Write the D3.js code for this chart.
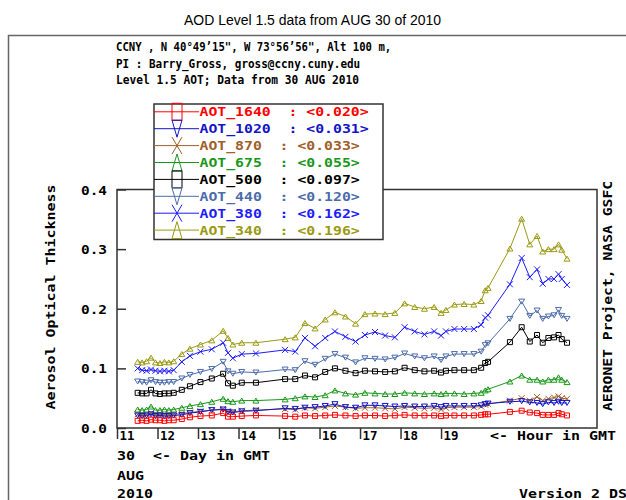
<!DOCTYPE html>
<html>
<head>
<meta charset="utf-8">
<script src="https://d3js.org/d3.v7.min.js"></script>
<style>
  body { margin: 0; background: #fff; }
  text { white-space: pre; }
</style>
</head>
<body>
<div id="chart"></div>
<script>
// observation times (hour GMT, 30 AUG 2010)
var hours = [11.51, 11.62, 11.73, 11.84, 11.95, 12.06, 12.17, 12.28, 12.40, 12.60,
  12.80, 13.06, 13.34, 13.62, 13.74, 13.86, 14.08, 14.43, 15.15, 15.40,
  15.64, 15.89, 16.14, 16.38, 16.64, 16.89, 17.12, 17.37, 17.62, 17.86,
  18.10, 18.35, 18.59, 18.83, 19.00, 19.12, 19.33, 19.57, 19.81, 19.99,
  20.09, 20.16, 20.70, 20.99, 21.19, 21.37, 21.51, 21.65, 21.79, 21.90,
  21.98, 22.11];

var aot1640 = [0.012, 0.013, 0.012, 0.014, 0.013, 0.013, 0.012, 0.013, 0.013, 0.015,
  0.018, 0.020, 0.021, 0.025, 0.019, 0.019, 0.020, 0.021, 0.020, 0.019,
  0.021, 0.020, 0.021, 0.022, 0.021, 0.020, 0.021, 0.021, 0.020, 0.021,
  0.022, 0.021, 0.021, 0.021, 0.020, 0.021, 0.021, 0.021, 0.021, 0.022,
  0.023, 0.023, 0.027, 0.029, 0.026, 0.025, 0.022, 0.022, 0.022, 0.025,
  0.023, 0.021];
var aot1020 = [0.021, 0.020, 0.021, 0.023, 0.020, 0.021, 0.020, 0.020, 0.021, 0.022,
  0.025, 0.027, 0.030, 0.031, 0.027, 0.026, 0.028, 0.029, 0.033, 0.032,
  0.034, 0.035, 0.037, 0.040, 0.035, 0.034, 0.038, 0.038, 0.037, 0.036,
  0.037, 0.036, 0.036, 0.037, 0.035, 0.037, 0.037, 0.037, 0.037, 0.038,
  0.040, 0.041, 0.044, 0.045, 0.043, 0.042, 0.040, 0.043, 0.042, 0.044,
  0.042, 0.042];
var aot870 = [0.023, 0.022, 0.023, 0.025, 0.022, 0.023, 0.022, 0.022, 0.023, 0.024,
  0.026, 0.028, 0.030, 0.032, 0.028, 0.027, 0.029, 0.030, 0.032, 0.031,
  0.034, 0.033, 0.035, 0.037, 0.035, 0.033, 0.034, 0.034, 0.033, 0.032,
  0.035, 0.034, 0.033, 0.034, 0.031, 0.034, 0.035, 0.035, 0.035, 0.036,
  0.039, 0.040, 0.046, 0.050, 0.046, 0.052, 0.046, 0.049, 0.051, 0.053,
  0.050, 0.049];
var aot675 = [0.031, 0.030, 0.031, 0.036, 0.030, 0.030, 0.031, 0.030, 0.031, 0.034,
  0.037, 0.040, 0.044, 0.049, 0.045, 0.044, 0.046, 0.046, 0.048, 0.050,
  0.053, 0.052, 0.055, 0.063, 0.058, 0.056, 0.059, 0.058, 0.057, 0.057,
  0.059, 0.058, 0.057, 0.058, 0.057, 0.058, 0.058, 0.057, 0.058, 0.059,
  0.063, 0.065, 0.078, 0.088, 0.081, 0.081, 0.078, 0.081, 0.081, 0.085,
  0.081, 0.077];
var aot500 = [0.059, 0.058, 0.058, 0.064, 0.058, 0.057, 0.058, 0.058, 0.059, 0.064,
  0.070, 0.077, 0.083, 0.091, 0.075, 0.071, 0.076, 0.076, 0.082, 0.082,
  0.088, 0.085, 0.094, 0.100, 0.096, 0.092, 0.096, 0.095, 0.094, 0.095,
  0.101, 0.097, 0.095, 0.096, 0.093, 0.096, 0.097, 0.097, 0.097, 0.101,
  0.109, 0.111, 0.144, 0.169, 0.145, 0.156, 0.143, 0.151, 0.152, 0.156,
  0.149, 0.143];
var aot440 = [0.078, 0.077, 0.076, 0.080, 0.077, 0.076, 0.076, 0.077, 0.077, 0.083,
  0.089, 0.094, 0.099, 0.111, 0.095, 0.091, 0.094, 0.093, 0.098, 0.097,
  0.112, 0.106, 0.116, 0.124, 0.118, 0.110, 0.117, 0.116, 0.115, 0.118,
  0.125, 0.120, 0.117, 0.120, 0.114, 0.120, 0.124, 0.124, 0.124, 0.128,
  0.139, 0.142, 0.183, 0.212, 0.188, 0.197, 0.183, 0.187, 0.189, 0.198,
  0.188, 0.183];
var aot380 = [0.100, 0.097, 0.096, 0.098, 0.096, 0.095, 0.096, 0.095, 0.097, 0.111,
  0.121, 0.128, 0.132, 0.143, 0.126, 0.117, 0.124, 0.125, 0.131, 0.128,
  0.151, 0.137, 0.151, 0.162, 0.153, 0.145, 0.156, 0.161, 0.155, 0.152,
  0.169, 0.162, 0.157, 0.162, 0.155, 0.162, 0.166, 0.166, 0.166, 0.173,
  0.185, 0.189, 0.241, 0.285, 0.253, 0.266, 0.242, 0.250, 0.250, 0.258,
  0.250, 0.240];
var aot340 = [0.111, 0.110, 0.112, 0.118, 0.110, 0.109, 0.111, 0.110, 0.112, 0.124,
  0.133, 0.140, 0.147, 0.163, 0.151, 0.140, 0.143, 0.143, 0.149, 0.152,
  0.176, 0.167, 0.182, 0.194, 0.187, 0.175, 0.191, 0.192, 0.191, 0.193,
  0.209, 0.203, 0.200, 0.203, 0.193, 0.198, 0.207, 0.208, 0.207, 0.213,
  0.231, 0.235, 0.301, 0.351, 0.308, 0.322, 0.296, 0.300, 0.300, 0.308,
  0.299, 0.284];

var seriesNames = ["AOT_1640", "AOT_1020", "AOT_870", "AOT_675", "AOT_500", "AOT_440", "AOT_380", "AOT_340"];
var seriesMeans = ["0.020", "0.031", "0.033", "0.055", "0.097", "0.120", "0.162", "0.196"];
var seriesValues = [aot1640, aot1020, aot870, aot675, aot500, aot440, aot380, aot340];

var xTicks = [11, 12, 13, 14, 15, 16, 17, 18, 19];
var yTicks = [0.0, 0.1, 0.2, 0.3, 0.4];

var colors = ["#ff0000", "#1414c8", "#a0602a", "#189818", "#000000", "#4c6caa", "#1c1cff", "#9a9a12"];
var markers = ["square", "tridown", "x", "triup", "square", "tridown", "x", "triup"];

var svgWidth = 626, svgHeight = 500;
var plot = { left: 117, right: 597, top: 189.5, bottom: 428 };

var svg = d3.select("#chart").append("svg")
  .attr("width", svgWidth)
  .attr("height", svgHeight);

svg.append("rect").attr("width", svgWidth).attr("height", svgHeight).attr("fill", "#fff");

var xScale = d3.scaleLinear().domain([11, 22.85]).range([plot.left, plot.right]);
var yScale = d3.scaleLinear().domain([0, 0.4]).range([plot.bottom, plot.top]);

// bold mono text stretched to a given char width
function monoText(g, x, y, str, cw, size, color) {
  return g.append("text")
    .attr("x", x).attr("y", y)
    .attr("font-family", "DejaVu Sans Mono")
    .attr("font-weight", "bold")
    .attr("font-size", size)
    .attr("fill", color || "#000")
    .attr("textLength", str.length * cw)
    .attr("lengthAdjust", "spacingAndGlyphs")
    .text(str);
}

function markerPath(type, w, h) {
  var a = w / 2, b = h / 2;
  if (type == "square") return `M${-a},${-b}H${a}V${b}H${-a}Z`;
  if (type == "triup") return `M0,${-b}L${a},${b}L${-a},${b}Z`;
  if (type == "tridown") return `M0,${b}L${a},${-b}L${-a},${-b}Z`;
  return `M${-a},${-b}L${a},${b}M${a},${-b}L${-a},${b}`;
}

// title
svg.append("text")
  .attr("x", 312.5).attr("y", 25)
  .attr("text-anchor", "middle")
  .attr("font-family", "Liberation Sans, Arial, sans-serif")
  .attr("font-size", 14)
  .attr("fill", "#000")
  .attr("textLength", 257)
  .attr("lengthAdjust", "spacingAndGlyphs")
  .text("AOD Level 1.5 data from AUG 30 of 2010");

// outer frame
svg.append("rect")
  .attr("x", 8.5).attr("y", 35.5)
  .attr("width", 640).attr("height", 500)
  .attr("fill", "none")
  .attr("stroke", "#666")
  .attr("stroke-width", 1.5);

// header
monoText(svg, 116, 51, "CCNY , N 40°49’15\", W 73°56’56\", Alt 100 m,", 6.4, 12);
monoText(svg, 116, 68, "PI : Barry_Gross, gross@ccny.cuny.edu", 6.6, 12);
monoText(svg, 116, 84, "Level 1.5 AOT; Data from 30 AUG 2010", 6.75, 12);

// plot frame
svg.append("rect")
  .attr("x", plot.left).attr("y", plot.top)
  .attr("width", plot.right - plot.left).attr("height", plot.bottom - plot.top)
  .attr("fill", "none")
  .attr("stroke", "#333")
  .attr("stroke-width", 1.5);

// y axis: inward ticks, labels to the left
var yAxisG = svg.append("g")
  .attr("transform", `translate(${plot.left},0)`)
  .call(d3.axisLeft(yScale).tickValues(yTicks).tickSizeInner(-9).tickSizeOuter(0)
    .tickPadding(10).tickFormat(d3.format(".1f")));
yAxisG.select(".domain").remove();
yAxisG.selectAll("line").attr("stroke", "#333").attr("stroke-width", 1.5);
yAxisG.selectAll("text")
  .attr("font-family", "DejaVu Sans Mono").attr("font-weight", "bold")
  .attr("font-size", 12.5).attr("fill", "#000")
  .attr("dy", "0.36em")
  .attr("textLength", 26).attr("lengthAdjust", "spacingAndGlyphs");

// x axis: outward ticks, labels right of tick
var xAxisG = svg.append("g")
  .attr("transform", `translate(0,${plot.bottom})`)
  .call(d3.axisBottom(xScale).tickValues(xTicks).tickSizeInner(11).tickSizeOuter(0)
    .tickFormat(d3.format("d")));
xAxisG.select(".domain").remove();
xAxisG.selectAll("line").attr("stroke", "#333").attr("stroke-width", 1.5);
xAxisG.selectAll("text")
  .attr("font-family", "DejaVu Sans Mono").attr("font-weight", "bold")
  .attr("font-size", 12.5).attr("fill", "#000")
  .attr("text-anchor", "start")
  .attr("x", 2).attr("y", 12).attr("dy", 0)
  .attr("textLength", 15).attr("lengthAdjust", "spacingAndGlyphs");

monoText(svg, 490, 440, "<- Hour in GMT", 9, 12.5);
monoText(svg, 117, 460, "30  <- Day in GMT", 9, 12.5);
monoText(svg, 117, 480, "AUG", 9, 12.5);
monoText(svg, 117, 498, "2010", 9, 12.5);
monoText(svg, 519, 498, "Version 2 DS", 9, 12.5);

// axis titles
monoText(svg.append("g").attr("transform", "translate(50,297) rotate(-90)"),
  -112.5, 0, "Aerosol Optical Thickness", 9, 12.5).attr("dy", "0.36em");
monoText(svg.append("g").attr("transform", "translate(607,296) rotate(-90)"),
  -115, 0, "AERONET Project, NASA GSFC", 8.85, 12.5).attr("dy", "0.36em");

// series
var line = d3.line()
  .x(d => xScale(d[0]))
  .y(d => yScale(d[1]));

for (var s = seriesValues.length - 1; s >= 0; s--) {
  var pts = hours.map((h, i) => [h, seriesValues[s][i]]);
  var g = svg.append("g");
  g.append("path")
    .datum(pts)
    .attr("d", line)
    .attr("fill", "none")
    .attr("stroke", colors[s])
    .attr("stroke-width", 1);
  var ms = markers[s] == "square" ? [5, 5] : (markers[s] == "x" ? [6, 6] : [6, 5]);
  g.selectAll("path.mk")
    .data(pts)
    .enter()
    .append("path")
    .attr("class", "mk")
    .attr("transform", d => `translate(${xScale(d[0])},${yScale(d[1])})`)
    .attr("d", markerPath(markers[s], ms[0], ms[1]))
    .attr("fill", "none")
    .attr("stroke", colors[s])
    .attr("stroke-width", 1);
}

// legend
var legend = { left: 154, top: 104, width: 229, height: 135.5, row: 16.9, first: 111.8 };
svg.append("rect")
  .attr("x", legend.left).attr("y", legend.top)
  .attr("width", legend.width).attr("height", legend.height)
  .attr("fill", "#fff")
  .attr("stroke", "#333")
  .attr("stroke-width", 1.5);

seriesNames.forEach(function(name, i) {
  var yy = legend.first + i * legend.row;
  svg.append("line")
    .attr("x1", legend.left).attr("x2", 199)
    .attr("y1", yy).attr("y2", yy)
    .attr("stroke", colors[i]).attr("stroke-width", 1);
  svg.append("path")
    .attr("transform", `translate(177,${yy})`)
    .attr("d", markerPath(markers[i], 10, 17))
    .attr("fill", "none")
    .attr("stroke", colors[i])
    .attr("stroke-width", 1);
  var str = name + "  : <" + seriesMeans[i] + ">";
  monoText(svg, 199.5, yy + 4.5, str, 8.9, 12.5, colors[i]);
});
</script>
</body>
</html>
